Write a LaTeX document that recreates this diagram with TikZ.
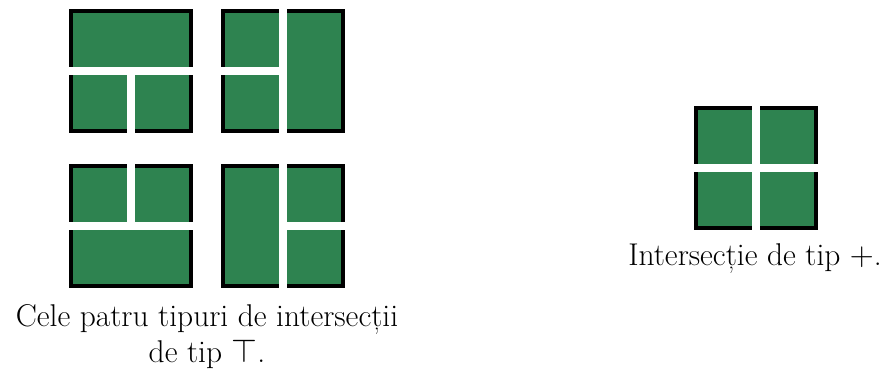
\documentclass[tikz,border=0pt]{standalone}
\usepackage{fontspec}
\definecolor{sqgreen}{RGB}{46,131,80}
\begin{document}
\begin{tikzpicture}[x=0.75pt,y=-0.75pt,
  sq/.style={fill=sqgreen,draw=black,line width=3pt},
  gap/.style={fill=white,draw=none},
  captext/.style={font=\fontsize{23.6}{27}\selectfont,anchor=base,inner sep=0pt,align=center}]
\useasboundingbox (0,0) rectangle (886,371);
% Figure A
\path[sq] (71,11) rectangle (191,131);
\path[gap] (69,67) rectangle (193,74.5);
\path[gap] (127.25,70) rectangle (134.75,133);
% Figure B
\path[sq] (223,11) rectangle (343,131);
\path[gap] (279.25,9) rectangle (286.75,133);
\path[gap] (221,67) rectangle (282,74.5);
% Figure C
\path[sq] (71,166) rectangle (191,286);
\path[gap] (69,222.25) rectangle (193,229.75);
\path[gap] (127.25,164) rectangle (134.75,226);
% Figure D
\path[sq] (223,166) rectangle (343,286);
\path[gap] (279.25,164) rectangle (286.75,288);
\path[gap] (283,222.25) rectangle (345,229.75);
% Figure E
\path[sq] (696,108) rectangle (816,228);
\path[gap] (752.25,106) rectangle (759.75,230);
\path[gap] (694,164.25) rectangle (818,171.75);
% captions
\node[captext] (c1) at (207,362) {Cele patru tipuri de intersecții\\de tip $\top$.};
\node[captext] (c3) at (755,265) {Intersecție de tip $+$.};
\end{tikzpicture}
\end{document}
